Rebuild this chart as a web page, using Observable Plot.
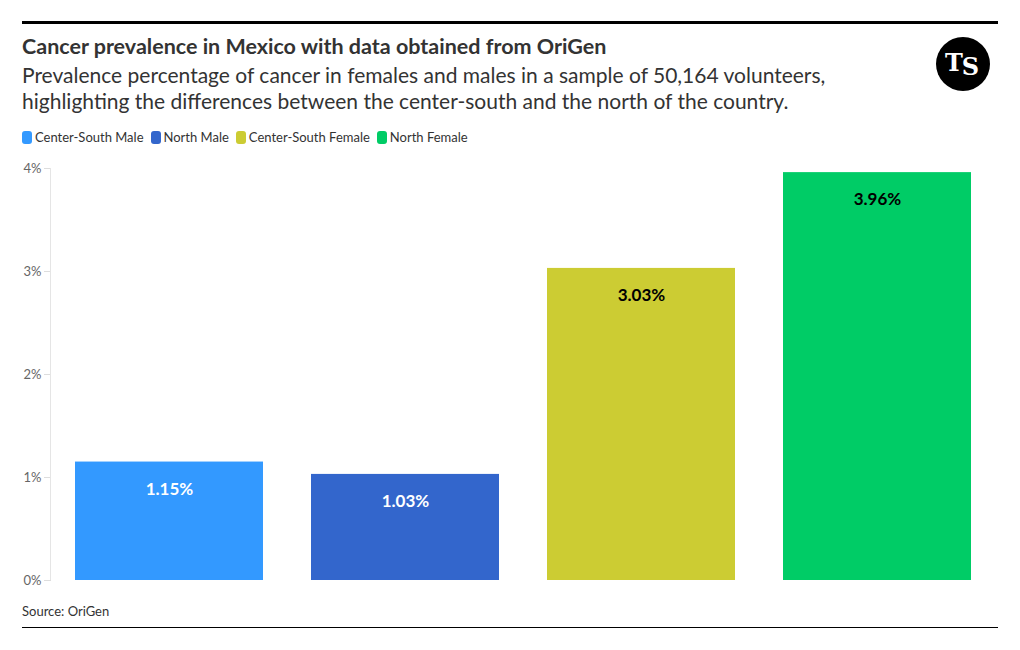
<!DOCTYPE html>
<html>
<head>
<meta charset="utf-8">
<script src="https://cdn.jsdelivr.net/npm/d3@7"></script>
<script src="https://cdn.jsdelivr.net/npm/@observablehq/plot@0.6"></script>
<style>
  html, body { margin: 0; padding: 0; background: #fff; }
  body { width: 1020px; height: 650px; position: relative; font-family: Lato, "Noto Sans", sans-serif; color: #333; overflow: hidden; }
  .rule-top { position: absolute; left: 22px; top: 21px; width: 976px; height: 3px; background: #000; }
  .rule-bottom { position: absolute; left: 22px; top: 627px; width: 976px; height: 1px; background: #000; }
  .title { position: absolute; left: 22px; top: 33px; font-size: 21.5px; font-weight: 700; color: #333; line-height: 26px; white-space: nowrap; }
  .subtitle { position: absolute; left: 22px; top: 62px; font-size: 21px; font-weight: 400; color: #333; line-height: 26px; width: 850px; }
  .legend { position: absolute; left: 22px; top: 129px; font-size: 13px; color: #333; display: flex; gap: 7px; line-height: 16px; }
  .legend span.item { display: inline-flex; align-items: center; }
  .legend span.sw { display: inline-block; width: 10px; height: 13px; border-radius: 3px; margin-right: 3px; }
  .source { position: absolute; left: 22px; top: 603px; font-size: 13px; color: #333; }
  #chart { position: absolute; left: 0; top: 160px; }
  .logo { position: absolute; left: 935px; top: 36px; }
</style>
</head>
<body>
<div class="rule-top"></div>
<div class="title">Cancer prevalence in Mexico with data obtained from OriGen</div>
<div class="subtitle">Prevalence percentage of cancer in females and males in a sample of 50,164 volunteers, highlighting the differences between the center-south and the north of the country.</div>
<svg class="logo" width="56" height="56" viewBox="0 0 56 56">
  <circle cx="28" cy="28" r="27" fill="#000"/>
  <text x="10" y="35" font-family="DejaVu Serif, Liberation Serif, serif" font-weight="700" font-size="24" fill="#fff" letter-spacing="-1">T<tspan dy="4">S</tspan></text>
</svg>
<div class="legend" id="legend"></div>
<div id="chart"></div>
<div class="source">Source: OriGen</div>
<div class="rule-bottom"></div>
<script>
const categories = ["Center-South Male", "North Male", "Center-South Female", "North Female"];
const values = [1.15, 1.03, 3.03, 3.96];
const colors = ["#3399ff", "#3366cc", "#cccc33", "#00cc66"];
const labelColors = ["#ffffff", "#ffffff", "#000000", "#000000"];
const yTicks = [0, 1, 2, 3, 4];

const data = categories.map((c, i) => ({category: c, value: values[i], color: colors[i], labelColor: labelColors[i]}));

const legend = document.getElementById("legend");
categories.forEach((c, i) => {
  const item = document.createElement("span");
  item.className = "item";
  const sw = document.createElement("span");
  sw.className = "sw";
  sw.style.background = colors[i];
  item.appendChild(sw);
  item.appendChild(document.createTextNode(c));
  legend.appendChild(item);
});

const chart = Plot.plot({
  width: 1020,
  height: 430,
  marginLeft: 51,
  marginRight: 25,
  marginTop: 8,
  marginBottom: 10,
  style: {fontFamily: "Lato, 'Noto Sans', sans-serif", fontSize: "13px", color: "#666", background: "transparent"},
  x: {domain: categories, paddingInner: 0.2034, paddingOuter: 0.1017, axis: null},
  y: {domain: [0, 4], ticks: yTicks, tickFormat: d => d + "%", label: null, tickSize: 7, tickPadding: 3},
  marks: [
    Plot.barY(data, {x: "category", y: "value", fill: "color"}),
    Plot.text(data, {x: "category", y: "value", text: d => d.value.toFixed(2) + "%", fill: "labelColor", dy: 27, fontSize: 17, fontWeight: 700})
  ]
});
document.getElementById("chart").appendChild(chart);
const svg = d3.select(chart);
svg.select("[aria-label='y-axis tick']").attr("stroke", "#ddd");
svg.insert("line", "[aria-label='bar']")
  .attr("x1", 50.5).attr("x2", 50.5).attr("y1", 8).attr("y2", 420)
  .attr("stroke", "#e5e5e5");
svg.selectAll("[aria-label='y-axis tick label'] text").attr("fill", "#666");
</script>
</body>
</html>
